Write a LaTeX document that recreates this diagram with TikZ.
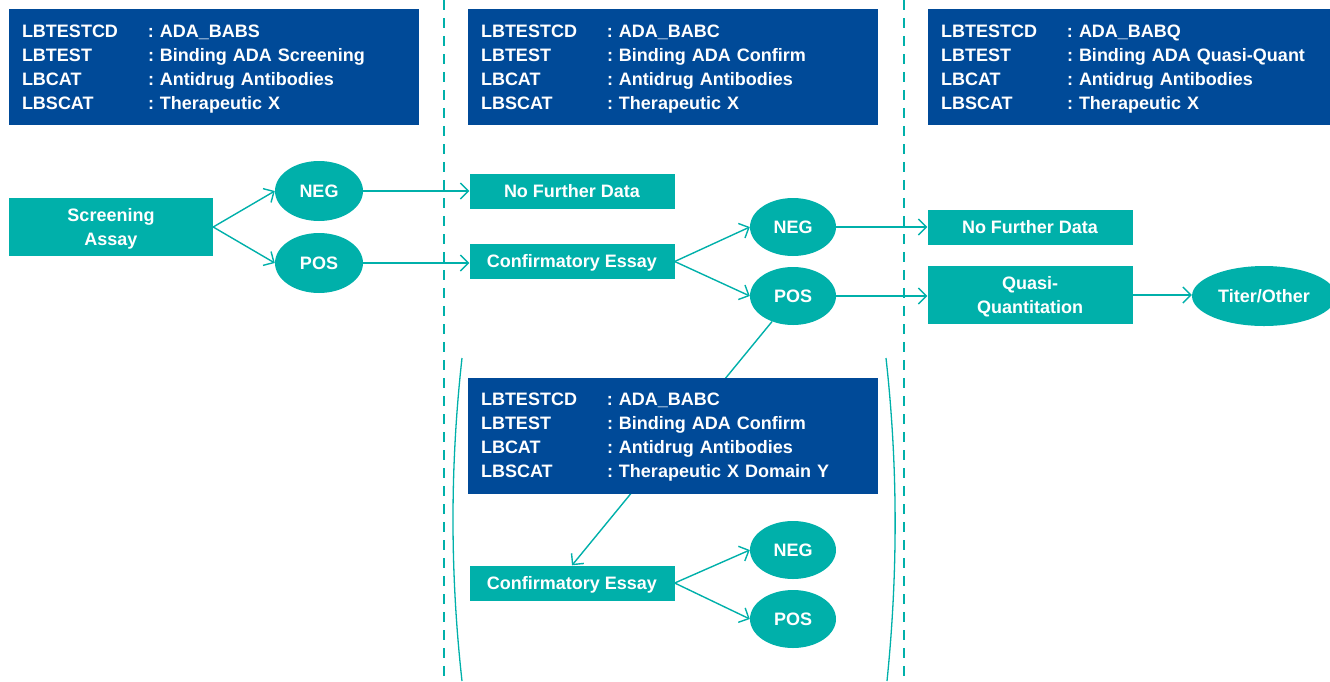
\documentclass[tikz,border=0pt]{standalone}
\usepackage{fontspec}
\setmainfont{Liberation Sans}
\usepackage{tikz}
\usetikzlibrary{
  shapes.geometric, arrows.meta, positioning, backgrounds
}
\usepackage{xcolor}
\definecolor{DeepBlue}{HTML}{004A98}
\definecolor{Teal}{HTML}{00B0AA}

% one line of an LB record box
\newcommand{\lbrow}[2]{\makebox[126pt][l]{#1}:\ #2}

\tikzset{
  % LB record box
  lbbox/.style={
    rectangle, fill=DeepBlue, text=white,
    minimum width=410pt, minimum height=116pt,
    text width=384pt, align=left, inner sep=0pt,
    text depth=72pt,
    font=\fontsize{18}{24}\selectfont\bfseries
  },
  % Assay / result box
  assay/.style={
    rectangle, fill=Teal, text=white,
    minimum width=205pt, minimum height=35pt,
    align=center, inner sep=0pt,
    text height=12.9pt, text depth=0pt,
    font=\fontsize{18}{24}\selectfont\bfseries
  },
  % Two-line assay box
  assay2/.style={
    assay, minimum height=58pt, text height=
  },
  % NEG / POS oval
  result/.style={
    ellipse, fill=Teal, text=white,
    minimum width=86pt, minimum height=58pt,
    inner sep=0pt, text height=12.9pt, text depth=0pt,
    font=\fontsize{18}{24}\selectfont\bfseries
  },
  % Arrow style
  arrow/.style={
    -{Straight Barb[length=8pt,width=16pt]}, line width=1.4pt, draw=Teal
  },
  % Column separator
  divider/.style={
    draw=Teal, line width=1.4pt, dash pattern=on 10pt off 8pt
  },
  % Bracket curve
  bracket/.style={
    draw=Teal, line width=1.3pt
  }
}

\begin{document}
\begin{tikzpicture}[x=1pt, y=-1pt]

\useasboundingbox (0,0) rectangle (1330,681);

% ── record boxes ─────────────────────────────
\node[lbbox] (rec_scr) at (214,67)
  {\lbrow{LBTESTCD}{ADA\_BABS}\\
   \lbrow{LBTEST}{Binding ADA Screening}\\
   \lbrow{LBCAT}{Antidrug Antibodies}\\
   \lbrow{LBSCAT}{Therapeutic X}};
\node[lbbox] (rec_conf) at (673,67)
  {\lbrow{LBTESTCD}{ADA\_BABC}\\
   \lbrow{LBTEST}{Binding ADA Confirm}\\
   \lbrow{LBCAT}{Antidrug Antibodies}\\
   \lbrow{LBSCAT}{Therapeutic X}};
\node[lbbox] (rec_quant) at (1133,67)
  {\lbrow{LBTESTCD}{ADA\_BABQ}\\
   \lbrow{LBTEST}{Binding ADA Quasi-Quant}\\
   \lbrow{LBCAT}{Antidrug Antibodies}\\
   \lbrow{LBSCAT}{Therapeutic X}};

% ── column separators ────────────────────────
\coordinate (div1_top) at (444,0);
\coordinate (div1_bot) at (444,681);
\coordinate (div2_top) at (904,0);
\coordinate (div2_bot) at (904,681);
\draw[divider] (div1_top) -- (div1_bot);
\draw[divider] (div2_top) -- (div2_bot);

% ── screening ────────────────────────────────
\node[assay2, minimum width=204pt] (screen) at (111,227)
  {Screening\\Assay};
\node[result, minimum width=88pt, minimum height=60pt] (neg_scr) at (319,191) {NEG};
\node[result, minimum width=88pt, minimum height=60pt] (pos_scr) at (319,263) {POS};

% ── confirmatory ─────────────────────────────
\node[assay] (nfd_scr) at (572,191.5) {No Further Data};
\node[assay] (confirm) at (572,261.5) {Confirmatory Essay};
\node[result] (neg_conf) at (793,227) {NEG};
\node[result] (pos_conf) at (793,296) {POS};

% ── quasi-quantitation ───────────────────────
\node[assay] (nfd_conf) at (1030,227) {No Further Data};
\node[assay2] (quasi) at (1030,295)
  {Quasi-\\Quantitation};
\node[result, minimum width=144pt, minimum height=60pt] (titer) at (1264,296) {Titer/Other};

% ── domain-level confirmation ────────────────
\node[lbbox] (rec_dom) at (673,435.5)
  {\lbrow{LBTESTCD}{ADA\_BABC}\\
   \lbrow{LBTEST}{Binding ADA Confirm}\\
   \lbrow{LBCAT}{Antidrug Antibodies}\\
   \lbrow{LBSCAT}{Therapeutic X Domain Y}};
\node[assay] (confirm_dom) at (572,583) {Confirmatory Essay};
\node[result] (neg_dom) at (793,550) {NEG};
\node[result] (pos_dom) at (793,619) {POS};

% ── brackets ─────────────────────────────────
\coordinate (lbr_top) at (462,358);
\coordinate (lbr_bot) at (462,681);
\coordinate (rbr_top) at (886,358);
\coordinate (rbr_bot) at (887,681);
\draw[bracket] (lbr_top) .. controls (450,466) and (450,573) .. (lbr_bot);
\draw[bracket] (rbr_top) .. controls (898,466) and (898,573) .. (rbr_bot);

% ── connectors ───────────────────────────────
\draw[arrow] (screen.east)   -- (neg_scr.west);
\draw[arrow] (screen.east)   -- (pos_scr.west);
\draw[arrow] (neg_scr.east)  -- (neg_scr.east -| nfd_scr.west);
\draw[arrow] (pos_scr.east)  -- (pos_scr.east -| confirm.west);
\draw[arrow] (confirm.east)  -- (neg_conf.west);
\draw[arrow] (confirm.east)  -- (pos_conf.west);
\draw[arrow] (neg_conf.east) -- (nfd_conf.west);
\draw[arrow] (pos_conf.east) -- (pos_conf.east -| quasi.west);
\draw[arrow] (quasi.east)    -- (quasi.east -| titer.west);
\draw[arrow] (confirm_dom.east) -- (neg_dom.west);
\draw[arrow] (confirm_dom.east) -- (pos_dom.west);
\begin{scope}[on background layer]
  \draw[arrow] (pos_conf) -- (confirm_dom.north);
\end{scope}

\end{tikzpicture}
\end{document}
